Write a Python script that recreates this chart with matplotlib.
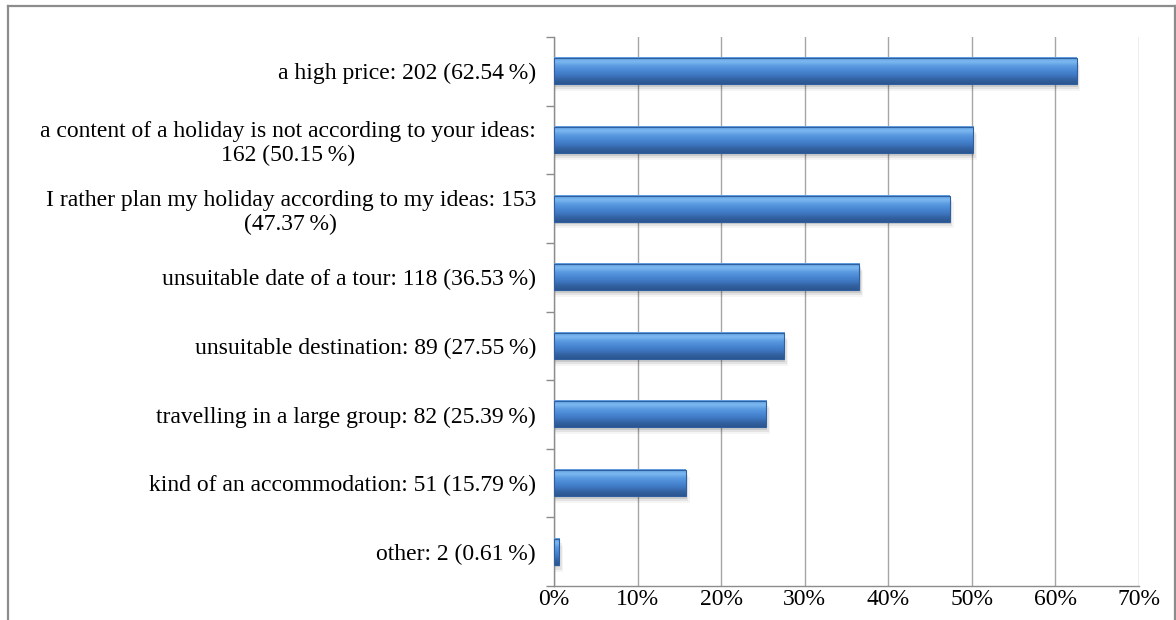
import numpy as np
import matplotlib.pyplot as plt
from matplotlib.colors import LinearSegmentedColormap
from matplotlib.patches import Rectangle
from matplotlib.lines import Line2D
from matplotlib.ticker import FuncFormatter

plt.rcParams['font.family'] = ['Liberation Serif', 'DejaVu Serif']

labels = [
    "a high price: 202 (62.54\u2009%)",
    "a content of a holiday is not according to your ideas:\n162 (50.15\u2009%)",
    "I rather plan my holiday according to my ideas: 153\n(47.37\u2009%)",
    "unsuitable date of a tour: 118 (36.53\u2009%)",
    "unsuitable destination: 89 (27.55\u2009%)",
    "travelling in a large group: 82 (25.39\u2009%)",
    "kind of an accommodation: 51 (15.79\u2009%)",
    "other: 2 (0.61\u2009%)",
]
shares = [62.54, 50.15, 47.37, 36.53, 27.55, 25.39, 15.79, 0.61]
xticks = [0, 10, 20, 30, 40, 50, 60, 70]

# bottom -> top shading of the bars
bar_cmap = LinearSegmentedColormap.from_list(
    "bevel", ["#2b5590", "#3463a3", "#3f78c2", "#4a88d4", "#5a9ae0", "#7cb8f0", "#5f9fe2"])

fig = plt.figure(figsize=(11.76, 6.2), dpi=100)
ax = fig.add_axes([554 / 1176, 34 / 620, 585 / 1176, 549 / 620])

n = len(shares)
ypos = np.arange(n)[::-1]
h = 0.38
grad = np.linspace(0, 1, 64).reshape(-1, 1)

for y, v in zip(ypos, shares):
    # soft shadow under each bar
    for k, a in enumerate([0.10, 0.07, 0.04]):
        off = 0.04 + 0.03 * k
        ax.add_patch(Rectangle((0, y - h / 2 - off), v + 0.15 * (k + 1), h,
                               facecolor="#000000", alpha=a, edgecolor="none", zorder=2))
    ax.imshow(grad, cmap=bar_cmap, aspect="auto", origin="lower",
              extent=(0, v, y - h / 2, y + h / 2), zorder=3)
    ax.add_patch(Rectangle((0, y - h / 2), v, h, facecolor="none",
                           edgecolor="#2f5f9e", lw=0.8, zorder=4))

ax.set_xlim(0, 70)
ax.set_ylim(-0.5, n - 0.5)
ax.set_xticks(xticks)
ax.xaxis.set_major_formatter(FuncFormatter(lambda x, p: f"{x:.0f}%"))
ax.tick_params(axis="x", length=0, pad=2, labelsize=17)
ax.grid(axis="x", color="#a6a6a6", lw=1.0, zorder=1)
ax.set_axisbelow(True)

ax.set_yticks(ypos)
ax.set_yticklabels(labels, fontsize=17, multialignment="center", linespacing=1.15)
ax.tick_params(axis="y", which="major", length=0, pad=13)
ax.set_yticks(np.arange(-0.5, n, 1.0), minor=True)
ax.tick_params(axis="y", which="minor", length=6, color="#8c8c8c", width=1)

for s in ["top", "right"]:
    ax.spines[s].set_visible(False)
for s in ["left", "bottom"]:
    ax.spines[s].set_color("#8c8c8c")
    ax.spines[s].set_linewidth(1.0)

# outer chart frame
fc = "#8c8c8c"
fig.add_artist(Line2D([7.5 / 1176, 7.5 / 1176], [0, 1 - 6 / 620], color=fc, lw=1.6, transform=fig.transFigure))
fig.add_artist(Line2D([7.5 / 1176, 1175 / 1176], [1 - 6 / 620, 1 - 6 / 620], color=fc, lw=1.6, transform=fig.transFigure))
fig.add_artist(Line2D([1175 / 1176, 1175 / 1176], [0, 1 - 6 / 620], color=fc, lw=1.6, transform=fig.transFigure))

fig.savefig("out.png", dpi=100)
